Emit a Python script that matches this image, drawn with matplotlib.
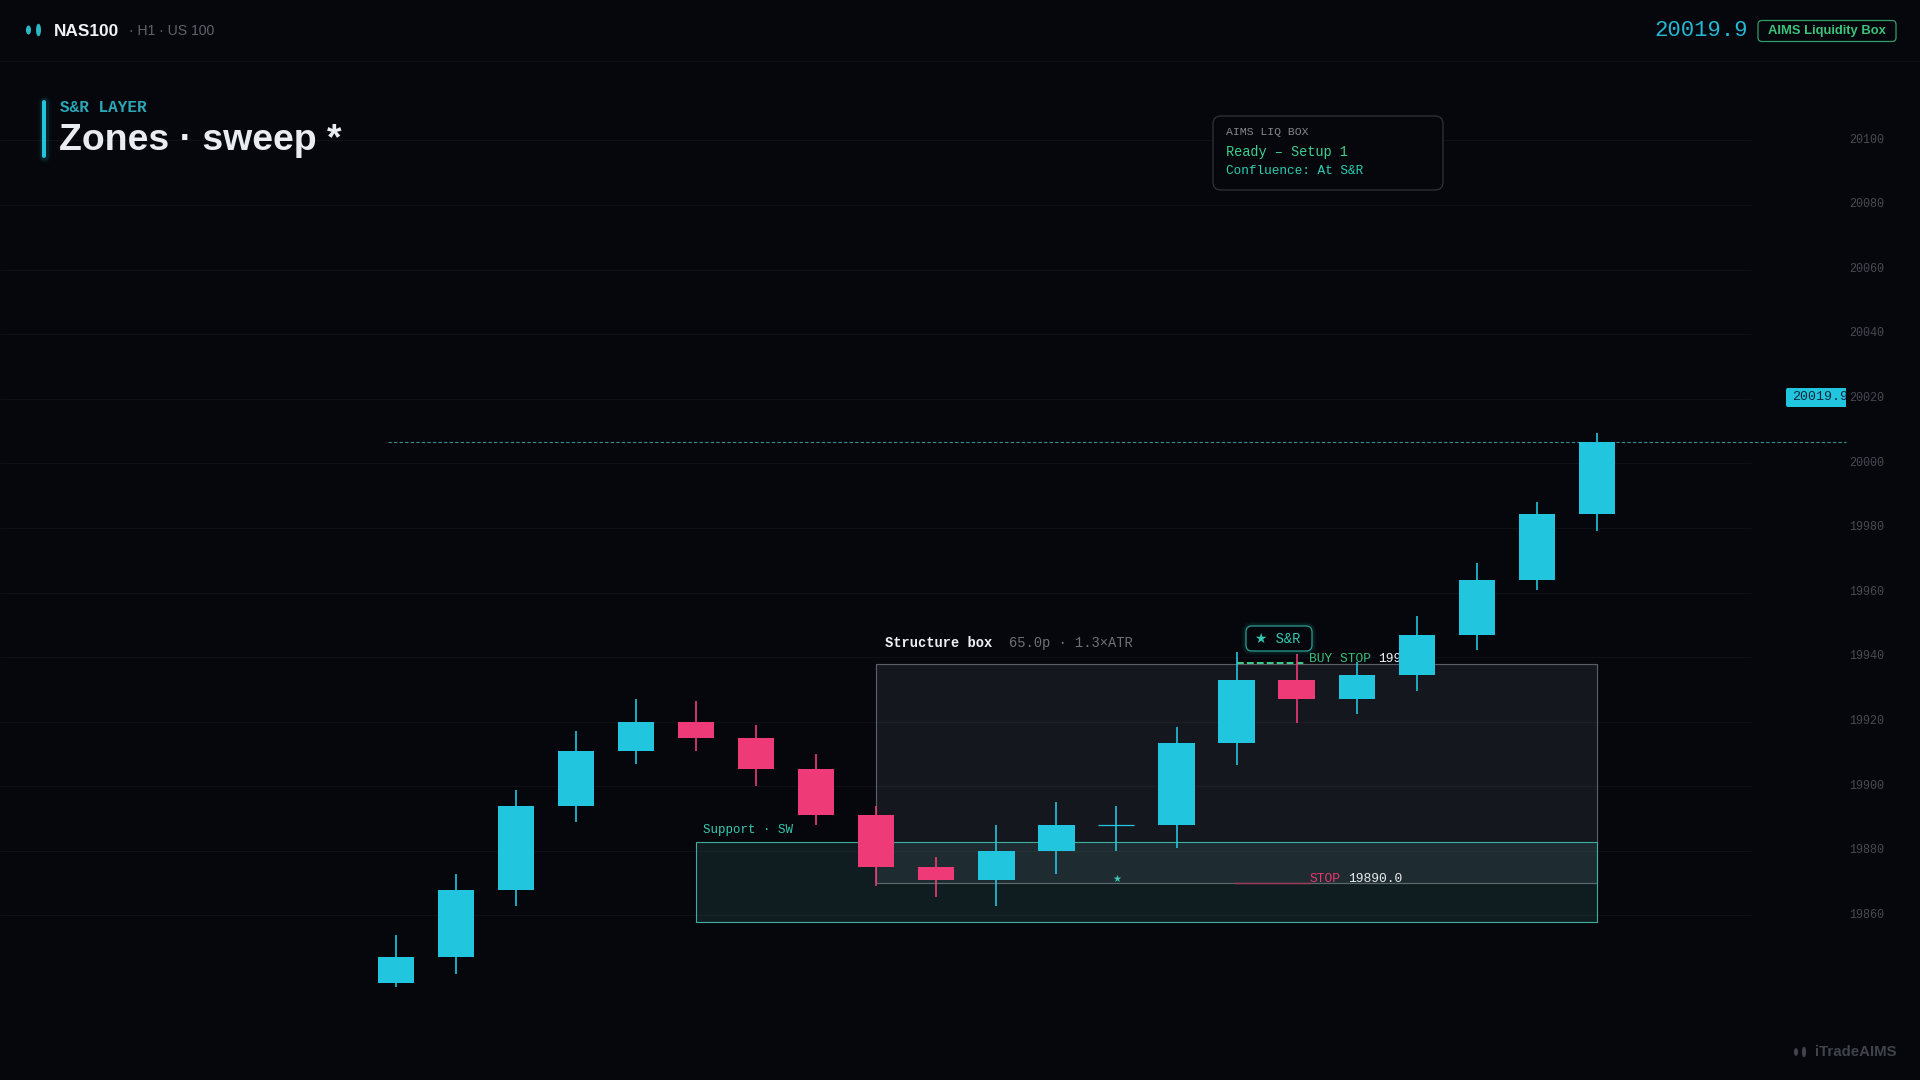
import matplotlib
matplotlib.use("Agg")
import matplotlib.pyplot as plt
from matplotlib.patches import FancyBboxPatch, Rectangle, Ellipse
from matplotlib.transforms import Affine2D, ScaledTranslation

# ---- data ----
opens  = [19839, 19847, 19868, 19894, 19911, 19920, 19915, 19905.4, 19891, 19875, 19871,
          19880, 19888, 19888, 19913.4, 19933, 19927, 19934.5, 19946.8, 19963.8, 19984.2]
closes = [19847, 19868, 19894, 19911, 19920, 19915, 19905.4, 19891, 19875, 19871, 19880,
          19888, 19888, 19913.4, 19933, 19927, 19934.5, 19946.8, 19963.8, 19984.2, 20006.7]
highs  = [19854, 19873, 19899, 19917, 19927, 19926.5, 19919, 19910, 19894, 19878, 19888,
          19895, 19894, 19918.4, 19941.7, 19941, 19938.6, 19952.7, 19969, 19988, 20009.3]
lows   = [19838, 19842, 19863, 19889, 19907, 19911, 19900, 19888, 19869, 19865.6, 19863,
          19873, 19880, 19881, 19906.6, 19919.5, 19922.5, 19929.6, 19942.2, 19960.8, 19979]
price_ticks = [19860, 19880, 19900, 19920, 19940, 19960, 19980, 20000, 20020, 20040, 20060, 20080, 20100]
last_close = 20006.5
struct_left, struct_right, struct_low, struct_high = 8, 20, 19870, 19938
zone_left, zone_right, zone_low, zone_high = 5, 20, 19858, 19882.7

BG = "#05070c"; CY = "#22c5de"; RD = "#ee3b78"; TEAL = "#2dd4bf"; GREEN = "#3ecf8e"
MONO = ["Liberation Mono", "DejaVu Sans"]; SANS = ["Liberation Sans", "DejaVu Sans"]
def pt(px): return px * 0.72

fig = plt.figure(figsize=(19.2, 10.8), dpi=100, facecolor=BG)
ax = fig.add_axes([0, 0, 1, 1], facecolor=BG)
ax.set_xlim(-6.591, 25.38)
ax.set_ylim(19809.07, 20143.44)
for s in ax.spines.values():
    s.set_visible(False)
ax.set_xticks([])
ax.yaxis.tick_right()
ax.set_yticks(price_ticks)
ax.set_yticklabels([str(p) for p in price_ticks], family=MONO, fontsize=pt(11.7), color="#474a52")
ax.tick_params(axis="y", length=0, pad=-51)
shift = ScaledTranslation(0, 2.2 / 100, fig.dpi_scale_trans)
for lab in ax.get_yticklabels():
    lab.set_transform(lab.get_transform() + shift)

px = Affine2D().scale(1, -1).translate(0, 1080)   # pixel placement of page furniture

def T(x, y, s, size, color, fam=MONO, weight="normal", ha="left", va="center", z=20, **kw):
    return ax.text(x, y, s, transform=px, fontsize=pt(size), color=color, family=fam,
                   fontweight=weight, ha=ha, va=va, zorder=z, clip_on=False, **kw)

# grid + header rule
ax.hlines(price_ticks, 0, 1751 / 1920, transform=ax.get_yaxis_transform(), color="#0d1015", lw=0.8, zorder=1)
ax.plot([0, 1920], [61, 61], transform=px, color="#0d1015", lw=0.8, zorder=1)

# structure box and S&R zone
ax.add_patch(Rectangle((struct_left, struct_low), struct_right - struct_left, struct_high - struct_low,
                       facecolor="#dfe7ff", alpha=0.075, lw=0, zorder=2))
ax.add_patch(Rectangle((struct_left, struct_low), struct_right - struct_left, struct_high - struct_low,
                       facecolor="none", edgecolor="#5a5d63", lw=0.85, zorder=2))
ax.add_patch(Rectangle((zone_left, zone_low), zone_right - zone_left, zone_high - zone_low,
                       facecolor="#6fd4c8", alpha=0.11, lw=0, zorder=3))
ax.add_patch(Rectangle((zone_left, zone_low), zone_right - zone_left, zone_high - zone_low,
                       facecolor="none", edgecolor="#3fae9f", lw=0.8, zorder=3))

# dashed last-price line
ax.plot([388, 1846], [ax.transData.transform((0, last_close))[1] * -1 + 1080] * 2, transform=px,
        color="#3a8f8a", lw=0.8, dashes=(3, 2), zorder=4)

# trade labels (sit beneath the candles)
ax.plot([1237, 1306], [662.7, 662.7], transform=px, color=GREEN, lw=1.4, dashes=(3.5, 1.6), zorder=4)
T(1309, 659, "BUY STOP", 13, "#35c07c", z=5)
T(1378, 659, "19938.0", 13, "#f0f2f5", z=5)
ax.plot([1235, 1310], [882.7, 882.7], transform=px, color="#a03a5f", lw=1, zorder=4)
T(1310, 879.5, "STOP", 13, "#e8396f", z=5)
T(1348.5, 879.5, "19890.0", 13, "#e8ecef", z=5)
T(1116.5, 879, "★", 10, "#3fc8b0", ha="center", z=5)
T(703, 830, "Support · SW", 12.5, "#35c9b0")
T(885, 643, "Structure box", 13.7, "#eef0f3", weight="bold")
T(1009, 643, "65.0p · 1.3×ATR", 13.7, "#6d7078")

# candles
for i, (o, c, h, l) in enumerate(zip(opens, closes, highs, lows)):
    col = CY if c >= o else RD
    ax.vlines(i, l, h, color=col, lw=1.2, zorder=6)
    if c == o:
        ax.hlines(o, i - 0.3, i + 0.3, color=col, lw=0.9, zorder=6)
    else:
        ax.bar(i, abs(c - o), bottom=min(o, c), width=0.605, color=col, lw=0, zorder=7)

# S&R badge
for lw, a in ((6, 0.05), (3.5, 0.08)):
    ax.add_patch(FancyBboxPatch((1250, 630), 58, 17, boxstyle="round,pad=4,rounding_size=6", transform=px,
                                facecolor="none", edgecolor=TEAL, lw=lw, alpha=a, zorder=8, clip_on=False))
ax.add_patch(FancyBboxPatch((1250, 630), 58, 17, boxstyle="round,pad=4,rounding_size=6", transform=px,
                            facecolor=BG, edgecolor="#2a9d8f", lw=0.9, zorder=9, clip_on=False))
T(1255, 638.5, "★ S&R", 13.8, "#33c9b1", z=10)

# price tag on the axis
ax.add_patch(FancyBboxPatch((1788, 390), 58, 15, boxstyle="round,pad=2,rounding_size=2", transform=px,
                            facecolor=CY, lw=0, zorder=12, clip_on=False))
ax.add_patch(Rectangle((1846, 385), 4, 25, transform=px, facecolor=BG, lw=0, zorder=12, clip_on=False))
tag = T(1792, 397.5, "20019.9", 13.4, "#0b2a3c", z=13)
tag.set_clip_path(Rectangle((1786, 388), 60, 19, transform=px))
tag.set_clip_on(True)

# info panel
ax.add_patch(FancyBboxPatch((1221, 124), 214, 58, boxstyle="round,pad=8,rounding_size=8", transform=px,
                            facecolor=BG, edgecolor="#30333a", lw=0.9, zorder=14, clip_on=False))
T(1226, 132, "AIMS LIQ BOX", 11.5, "#85878f", z=15)
T(1226, 152, "Ready – Setup 1", 13.6, GREEN, z=15)
T(1226, 171.5, "Confluence: At S&R", 12.7, "#2dcfb3", z=15)

# header
def mini_candles(x1, x2, yc, col, s=1.0):
    ax.add_patch(Ellipse((x1, yc), 5 * s, 9 * s, transform=px, facecolor=col, lw=0, zorder=20, clip_on=False))
    ax.add_patch(Ellipse((x2, yc), 5 * s, 12.5 * s, transform=px, facecolor=col, lw=0, zorder=20, clip_on=False))
mini_candles(28.5, 38.5, 30, "#2bb8c6")
T(54, 31, "NAS100", 17.2, "#f0f2f5", SANS, "bold")
T(129, 31, "· H1 · US 100", 14, "#5f636b", SANS)
T(1654, 30, "20019.9", 22.3, "#22b8d6")
ax.add_patch(FancyBboxPatch((1762, 24.5), 130, 13, boxstyle="round,pad=4,rounding_size=4", transform=px,
                            facecolor=BG, edgecolor="#2f9e6a", lw=0.9, zorder=19, clip_on=False))
T(1827, 31, "AIMS Liquidity Box", 13, "#3cc47c", SANS, "bold", ha="center")

# title block
for lw, a in ((9, 0.05), (6.5, 0.09)):
    ax.plot([44, 44], [102, 156], transform=px, color=CY, lw=lw, alpha=a, solid_capstyle="round", zorder=18)
ax.plot([44, 44], [102, 156], transform=px, color=CY, lw=2.9, solid_capstyle="round", zorder=19)
T(60, 107, "S&R LAYER", 16, "#2aa7b8", weight="bold")
T(59, 150, "Zones · sweep *", 37.4, "#e9ecf1", SANS, "bold", va="baseline")

# watermark
mini_candles(1796, 1804, 1052, "#40434b", 0.85)
T(1815, 1052.5, "iTradeAIMS", 15, "#40434b", SANS, "bold")

fig.savefig("out.png", dpi=100, facecolor=BG)
